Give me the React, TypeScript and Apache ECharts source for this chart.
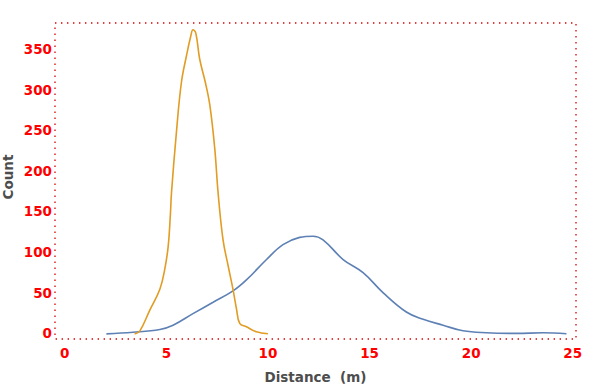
import React, { useEffect, useRef } from "react";
import * as echarts from "echarts";

const blueX = [2.05, 3.36, 4.68, 5.33, 6.31, 7.3, 8.28, 8.94, 9.93, 10.74, 11.56, 12.22, 12.71, 13.7, 14.68, 15.66, 16.81, 17.64, 18.62, 19.6, 20.75, 22.23, 23.54, 24.69];
const blueY = [-1, 1, 4.5, 9.7, 24, 38, 52, 65.6, 90.7, 109, 118, 119.5, 115, 90.7, 74.5, 50, 26, 17, 9.7, 2.8, 0.4, -0.4, 0.4, -0.8];

const orangeX = [3.44, 3.69, 4.18, 4.68, 4.92, 5.09, 5.2, 5.25, 5.5, 5.74, 5.99, 6.2, 6.31, 6.45, 6.64, 6.92, 7.14, 7.38, 7.55, 7.79, 8.04, 8.28, 8.45, 8.61, 8.94, 9.43, 10.0];
const orangeY = [-1, 2.4, 28, 54, 78.6, 107, 147, 172, 249, 309, 342, 366, 374, 370, 338, 309, 281, 228, 172, 115, 83, 54, 30, 12, 7.7, 1.6, -0.8];

const xTicks = [0, 5, 10, 15, 20, 25];
const yTicks = [0, 50, 100, 150, 200, 250, 300, 350];

const xTitle = "Distance  (m)";
const yTitle = "Count";

const FONT = "DejaVu Sans";

export default function App() {
  const ref = useRef<HTMLDivElement>(null);
  useEffect(() => {
    if (!ref.current) return;
    const chart = echarts.init(ref.current, undefined, { renderer: "svg" });
    const zip = (xs: number[], ys: number[]) => xs.map((x, i) => [x, ys[i]]);
    chart.setOption({
      animation: false,
      grid: {
        left: 55,
        right: 24,
        top: 23,
        bottom: 45,
        show: true,
        borderColor: "#dd0000",
        borderWidth: 1.3,
        borderType: [1.4, 4.6],
      },
      xAxis: {
        type: "value",
        min: -0.48,
        max: 25.16,
        axisLine: { show: false },
        axisTick: { show: false },
        splitLine: { show: false },
        axisLabel: {
          customValues: xTicks,
          color: "#ff0000",
          fontFamily: FONT,
          fontWeight: "bold",
          fontSize: 13.5,
          margin: 7,
        },
        name: xTitle,
        nameLocation: "middle",
        nameGap: 31,
        nameTextStyle: {
          color: "#4d4d4d",
          fontFamily: FONT,
          fontWeight: "bold",
          fontSize: 13.5,
        },
      },
      yAxis: {
        type: "value",
        min: -7.3,
        max: 382.4,
        axisLine: { show: false },
        axisTick: { show: false },
        splitLine: { show: false },
        axisLabel: {
          customValues: yTicks,
          color: "#ff0000",
          fontFamily: FONT,
          fontWeight: "bold",
          fontSize: 13.5,
          margin: 3,
        },
      },
      graphic: [
        {
          type: "text",
          x: 8,
          y: 177,
          rotation: Math.PI / 2,
          style: {
            text: yTitle,
            fill: "#4d4d4d",
            font: `bold 13.5px "${FONT}"`,
            align: "center",
            verticalAlign: "middle",
          },
        },
      ],
      series: [
        {
          type: "line",
          data: zip(blueX, blueY),
          smooth: 0.4,
          showSymbol: false,
          lineStyle: { color: "#5e81b5", width: 1.6 },
        },
        {
          type: "line",
          data: zip(orangeX, orangeY),
          smooth: 0.4,
          showSymbol: false,
          lineStyle: { color: "#e19c24", width: 1.6 },
        },
      ],
    });
    return () => chart.dispose();
  }, []);
  return (
    <div
      ref={ref}
      style={{ position: "absolute", left: 0, top: 0, width: 600, height: 389 }}
    />
  );
}
